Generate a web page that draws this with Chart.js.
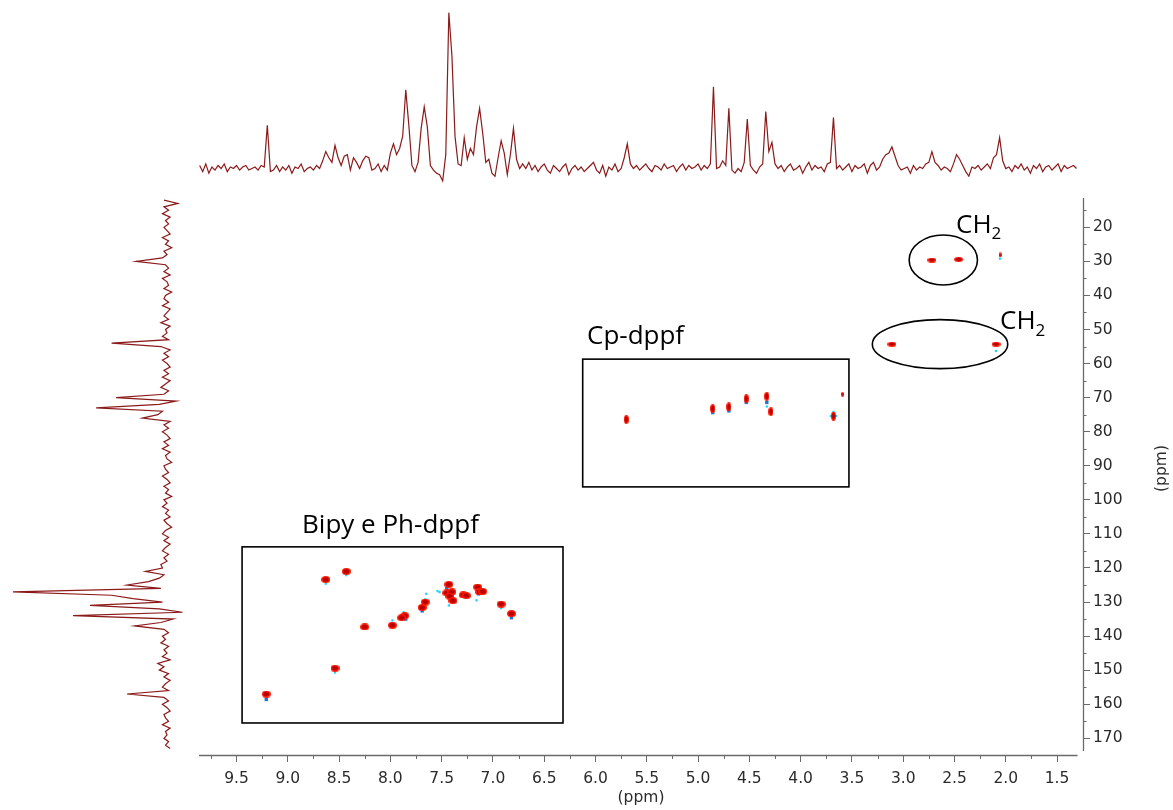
<!DOCTYPE html>
<html>
<head>
<meta charset="utf-8">
<title>HSQC</title>
<script src="https://cdn.jsdelivr.net/npm/chart.js@4"></script>
<style>
  html, body { margin: 0; padding: 0; background: #fff; }
  #wrap { position: relative; width: 1173px; height: 810px; }
  #wrap canvas { position: absolute; left: 0; top: 0; }
</style>
</head>
<body>
<div id="wrap">
  <canvas id="main" width="1173" height="810"></canvas>
  <canvas id="top" width="1173" height="810"></canvas>
  <canvas id="left" width="1173" height="810"></canvas>
</div>
<script>
// ejes: 1H en x (invertido), 13C en y (invertido)
const X_MIN = 1.247, X_MAX = 9.866;
const Y_MIN = 11.4, Y_MAX = 174.9;

// espectro 1H proyectado (arriba): muestreo cada 0.03 ppm desde 9.86
const H_START = 9.86, H_STEP = 0.03;
const hInt = [
  1,-3,2,-4,0,-2,1,-1,2,-3,
  0,-1,1,-2,0,1,-2,-1,0,-2,
  1,0,27,-3,-2,1,-3,0,-2,1,
  -4,0,-1,2,-3,-1,0,-2,1,-1,
  4,10,6,3,14,6,1,7,8,-2,
  6,3,-1,4,7,6,-2,-1,2,-3,
  1,-2,9,15,8,12,20,50,27,1,
  -3,3,25,39,26,1,-2,-4,-5,-9,
  8,100,72,20,2,1,19,5,12,8,
  26,38,22,3,5,-4,-6,6,17,9,
  -5,8,25,5,-1,2,-1,3,-2,1,
  -3,0,2,-2,-4,1,-1,-3,0,2,
  -5,-1,1,-2,0,-3,-1,1,3,-2,
  -4,1,-6,0,-2,2,-3,-1,6,15,
  2,-1,1,-2,0,2,-1,-3,1,0,
  -2,2,-1,0,1,-3,0,2,-2,1,
  -1,0,2,-2,1,-1,2,52,-1,0,
  4,1,38,-2,-4,-1,-3,3,31,1,
  -2,-4,0,2,36,10,16,2,-1,1,
  -3,0,2,-2,-1,1,-4,0,3,-2,
  1,-1,0,-3,2,3,32,-1,1,-2,
  0,2,-3,1,-1,0,2,-4,1,3,
  -2,0,5,8,9,13,7,1,-2,-1,
  0,-4,1,-2,0,-1,2,3,10,3,
  1,-2,0,-1,-3,2,8,5,1,-3,
  -6,0,-1,1,-2,0,2,-1,6,8,
  19,4,-1,0,-3,1,-1,2,-2,0,
  -4,1,-1,2,-3,0,1,-2,0,2,
  -3,1,-1,0,1,-1
];

// espectro 13C proyectado (izquierda): cada 1 ppm desde 12
const C_START = 12, C_STEP = 1;
const cInt = [
  2,-7,2,-1,3,-2,1,-1,2,0,
  -2,3,-1,1,-3,2,0,3,20,1,
  -1,2,-2,3,0,-1,2,-3,1,2,
  -1,3,-2,0,2,-1,4,-2,1,0,
  3,-1,36,4,-2,2,-1,3,0,-2,
  2,-1,3,-2,1,4,-1,2,33,-6,
  5,46,3,6,16,-2,2,-1,3,0,
  -2,2,-1,3,-2,1,0,-3,2,1,
  -1,3,0,-2,2,-1,1,-3,2,0,
  3,-1,1,-2,2,0,-3,1,3,-1,
  2,-2,1,3,-1,2,0,4,3,14,
  2,5,12,26,4,100,36,22,3,50,
  5,-10,61,-4,4,21,2,-1,3,1,
  4,-1,2,0,3,-2,6,2,5,-1,
  2,-2,1,3,-1,26,2,-1,3,0,
  -2,2,1,-1,3,-2,1,0,2,-1,
  1,-2
];

// picos de correlación [1H, 13C]
const arylPeaks = [
  [9.21,157.0],[8.63,123.4],[8.43,121.0],[8.54,149.4],[8.25,137.3],
  [7.98,136.8],[7.86,134.0],[7.89,134.6],[7.69,131.6],[7.66,130.0],
  [7.43,124.8],[7.45,127.3],[7.40,127.0],[7.42,128.3],[7.39,129.6],
  [7.29,127.9],[7.26,128.1],[7.15,125.6],[7.13,127.0],[7.10,126.9],
  [6.92,130.6],[6.82,133.4]
];
const cpPeaks = [
  [5.70,76.4],[4.857,73.2],[4.70,72.7],[4.53,70.3],[4.33,69.6],[4.29,74.1],[3.68,75.4]
];
const ch2Peaks = [[2.72,29.6],[2.46,29.4],[3.11,54.3],[2.095,54.3]];
const minorPeaks = [[2.056,28.1],[3.59,69.0]];
const bluePeaks = [
  [9.21,158.6],[7.85,135.0],[7.69,132.6],[7.45,125.9],[7.40,128.2],[7.14,127.6],
  [6.82,134.6],[4.857,74.4],[4.70,73.9],[4.53,71.4],[4.33,71.4],[3.68,75.8]
];
const cyanPeaks = [
  [8.63,124.6],[8.43,122.1],[8.54,150.7],[7.98,135.4],[7.87,133.0],[7.66,129.2],
  [7.65,127.6],[7.52,127.1],[7.54,126.8],[7.43,131.0],[7.155,125.2],[7.16,129.5],
  [6.80,132.9],[6.92,131.8],[3.705,75.4],[3.655,75.4],[3.68,74.2],[4.33,72.6],
  [2.095,56.3],[2.056,29.2]
];

// recuadros y elipses de asignación
const boxRegions = [[9.446,6.317,113.8,165.5],[6.125,3.529,58.7,96.2]];
const boxLabels = ['Bipy e Ph-dppf','Cp-dppf'];
const boxLabelAt = [[8.861,109.6],[6.083,54.3]];
const ellipses = [[2.609,29.6,0.333,7.34],[2.641,54.3,0.66,7.19]];
const ch2LabelAt = [[2.485,21.6],[2.056,49.9]];

const TRACE = '#8b1a1a';
const TEXT = '#2b2b2b';
const AXIS = '#6a6a6a';

const toXY = arr => arr.map(p => ({ x: p[0], y: p[1] }));

function blob(w, h) {
  const c = document.createElement('canvas');
  c.width = w; c.height = h;
  const g = c.getContext('2d');
  g.fillStyle = '#ff1a00';
  g.beginPath(); g.ellipse(w / 2, h / 2, w / 2, h / 2, 0, 0, Math.PI * 2); g.fill();
  g.fillStyle = '#b80000';
  g.beginPath(); g.ellipse(w / 2, h / 2, w * 0.32, h * 0.32, 0, 0, Math.PI * 2); g.fill();
  return c;
}

const common = {
  responsive: false,
  animation: false,
  events: [],
  plugins: { legend: { display: false }, tooltip: { enabled: false }, title: { display: false } }
};

// dibuja recuadros, elipses, textos, ejes y subdivisiones
const overlay = {
  id: 'overlay',
  afterDatasetsDraw(chart) {
    const { ctx, chartArea } = chart;
    const xs = chart.scales.x, ys = chart.scales.y;
    ctx.save();
    ctx.strokeStyle = '#000';
    ctx.lineWidth = 1.6;
    boxRegions.forEach((b, i) => {
      const x0 = xs.getPixelForValue(b[0]), x1 = xs.getPixelForValue(b[1]);
      const y0 = ys.getPixelForValue(b[2]), y1 = ys.getPixelForValue(b[3]);
      ctx.strokeRect(x0, y0, x1 - x0, y1 - y0);
      ctx.fillStyle = '#000';
      ctx.font = '26px "Open Sans"';
      ctx.textBaseline = 'alphabetic';
      ctx.textAlign = 'left';
      ctx.fillText(boxLabels[i], xs.getPixelForValue(boxLabelAt[i][0]), ys.getPixelForValue(boxLabelAt[i][1]));
    });
    ellipses.forEach(e => {
      const cx = xs.getPixelForValue(e[0]), cy = ys.getPixelForValue(e[1]);
      const rx = Math.abs(xs.getPixelForValue(e[0] - e[2]) - cx);
      const ry = Math.abs(ys.getPixelForValue(e[1] + e[3]) - cy);
      ctx.beginPath(); ctx.ellipse(cx, cy, rx, ry, 0, 0, Math.PI * 2); ctx.stroke();
    });
    ch2LabelAt.forEach(p => {
      const x = xs.getPixelForValue(p[0]), y = ys.getPixelForValue(p[1]);
      ctx.fillStyle = '#000';
      ctx.font = '26px "Open Sans"';
      ctx.fillText('CH', x, y);
      const w = ctx.measureText('CH').width;
      ctx.font = '17px "Open Sans"';
      ctx.fillText('2', x + w, y + 6.5);
    });

    // líneas de eje
    ctx.strokeStyle = AXIS;
    ctx.lineWidth = 1.3;
    const yb = chartArea.bottom + 0.5;
    ctx.beginPath();
    ctx.moveTo(xs.getPixelForValue(X_MAX), yb);
    ctx.lineTo(xs.getPixelForValue(1.3), yb);
    ctx.moveTo(chartArea.right + 0.5, chartArea.top);
    ctx.lineTo(chartArea.right + 0.5, ys.getPixelForValue(173.7));
    ctx.stroke();

    // marcas menores
    ctx.lineWidth = 1;
    ctx.beginPath();
    for (let v = 1.75; v <= 9.8; v += 0.5) {
      const px = Math.round(xs.getPixelForValue(v)) + 0.5;
      ctx.moveTo(px, yb); ctx.lineTo(px, yb + 3.5);
    }
    for (let v = 15; v <= 165; v += 10) {
      const py = Math.round(ys.getPixelForValue(v)) + 0.5;
      ctx.moveTo(chartArea.right, py); ctx.lineTo(chartArea.right + 3.5, py);
    }
    ctx.stroke();

    // título del eje 13C
    ctx.fillStyle = TEXT;
    ctx.font = '15.5px "DejaVu Sans"';
    ctx.textAlign = 'center';
    ctx.textBaseline = 'middle';
    ctx.translate(chartArea.right + 79, (chartArea.top + chartArea.bottom) / 2 - 8);
    ctx.rotate(-Math.PI / 2);
    ctx.fillText('(ppm)', 0, 0);
    ctx.restore();
  }
};

const tickFont = { family: 'DejaVu Sans', size: 15.5 };

new Chart(document.getElementById('main'), {
  type: 'scatter',
  data: {
    datasets: [
      { data: toXY(arylPeaks), pointStyle: blob(9, 7), pointRadius: 4 },
      { data: toXY(cpPeaks), pointStyle: blob(5, 9), pointRadius: 4 },
      { data: toXY(ch2Peaks), pointStyle: blob(9, 5), pointRadius: 4 },
      { data: toXY(minorPeaks), pointStyle: blob(3, 5), pointRadius: 3 },
      { data: toXY(bluePeaks), pointStyle: 'rect', pointRadius: 2.4, backgroundColor: '#1f74d4', borderWidth: 0 },
      { data: toXY(cyanPeaks), pointStyle: 'rect', pointRadius: 1.6, backgroundColor: '#1fd2ff', borderWidth: 0 }
    ]
  },
  options: Object.assign({}, common, {
    layout: { padding: { left: 199, top: 198, right: 0, bottom: 0 } },
    plugins: Object.assign({}, common.plugins),
    scales: {
      x: {
        type: 'linear', reverse: true, min: X_MIN, max: X_MAX,
        afterFit: s => { s.height = 55; },
        border: { display: false },
        grid: { drawOnChartArea: false, drawTicks: true, tickLength: 7, color: AXIS },
        ticks: { stepSize: 0.5, includeBounds: false, maxRotation: 0, autoSkip: false,
                 padding: 8, color: TEXT, font: tickFont, callback: v => v.toFixed(1) },
        title: { display: true, text: '(ppm)', color: TEXT, font: tickFont, padding: { top: 0, bottom: 3 } }
      },
      y: {
        type: 'linear', position: 'right', reverse: true, min: Y_MIN, max: Y_MAX,
        afterFit: s => { s.width = 90; },
        border: { display: false },
        grid: { drawOnChartArea: false, drawTicks: true, tickLength: 7, color: AXIS },
        ticks: { stepSize: 10, includeBounds: false, autoSkip: false, padding: 3,
                 color: TEXT, font: tickFont, callback: v => String(v) }
      }
    }
  }),
  plugins: [overlay]
});

new Chart(document.getElementById('top'), {
  type: 'scatter',
  data: {
    datasets: [{
      data: hInt.map((v, i) => ({ x: H_START - i * H_STEP, y: v })),
      showLine: true, pointRadius: 0, borderColor: TRACE, borderWidth: 1.2, tension: 0
    }]
  },
  options: Object.assign({}, common, {
    layout: { padding: { left: 199, right: 90, top: 0, bottom: 620 } },
    scales: {
      x: { display: false, reverse: true, min: X_MIN, max: X_MAX },
      y: { display: false, min: -14.9, max: 108.2 }
    }
  })
});

new Chart(document.getElementById('left'), {
  type: 'scatter',
  data: {
    datasets: [{
      data: cInt.map((v, i) => ({ x: v, y: C_START + i * C_STEP })),
      showLine: true, pointRadius: 0, borderColor: TRACE, borderWidth: 1.2, tension: 0
    }]
  },
  options: Object.assign({}, common, {
    layout: { padding: { left: 0, right: 983, top: 198, bottom: 55 } },
    scales: {
      x: { display: false, reverse: true, min: -14.9, max: 108.4 },
      y: { display: false, reverse: true, min: Y_MIN, max: Y_MAX }
    }
  })
});
</script>
</body>
</html>
